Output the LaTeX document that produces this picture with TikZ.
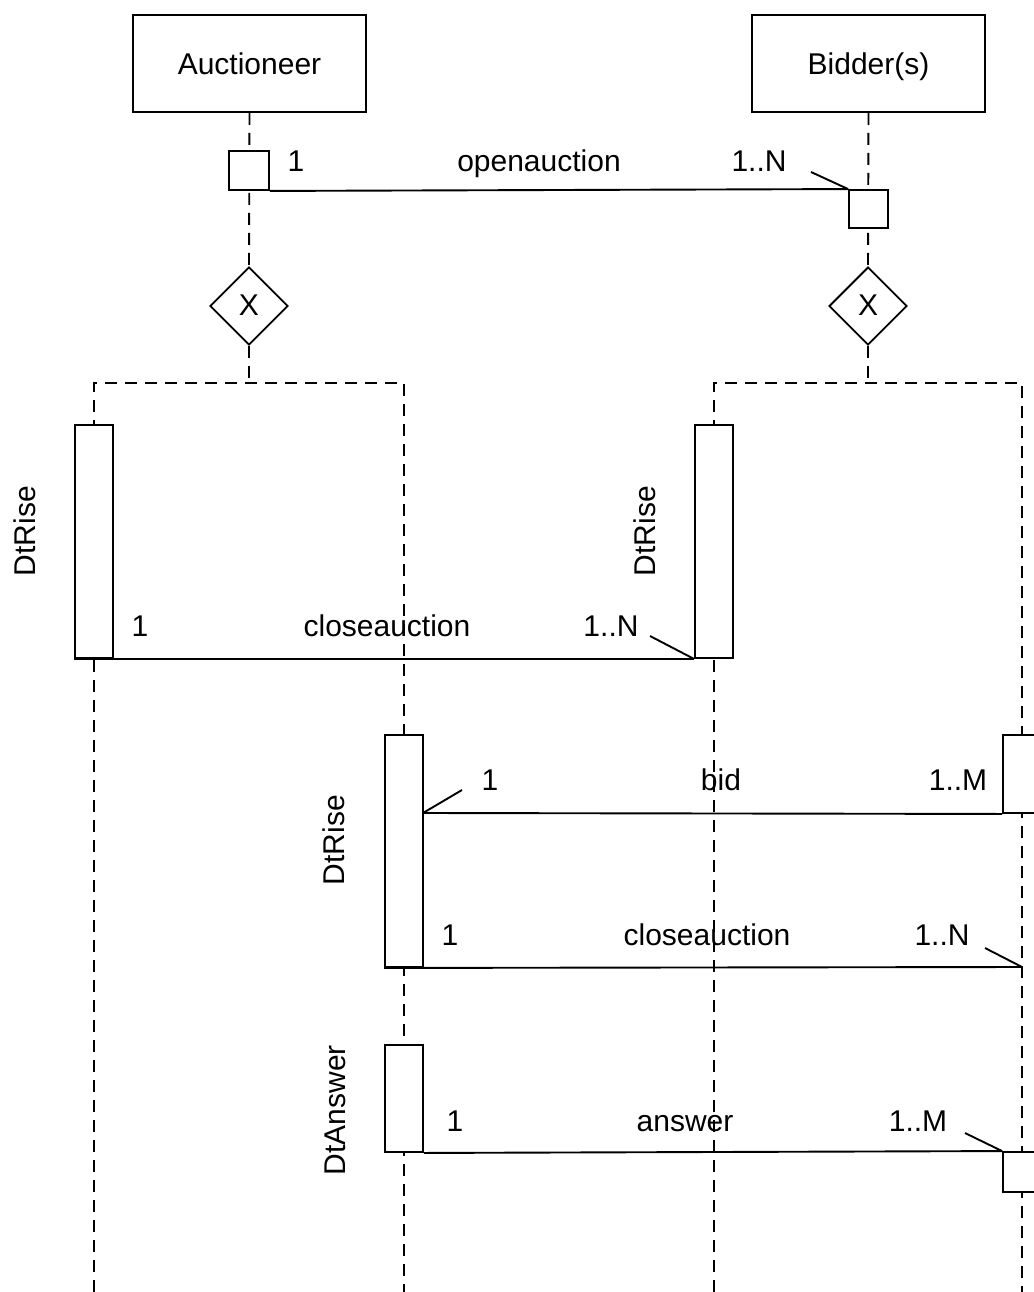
\documentclass[tikz,border=0pt]{standalone}
\usepackage{fontspec}
\setmainfont{Liberation Sans}
\usetikzlibrary{shapes.geometric}
\begin{document}
\begin{tikzpicture}[x=1pt,y=-1pt,line width=1.9pt,
  txt/.style={font=\fontsize{30}{34}\selectfont,inner sep=0pt,text height=21.5pt,text depth=0pt},
  actor/.style={draw,fill=white,minimum width=233pt,minimum height=97pt,txt},
  port/.style={draw,fill=white,minimum width=39pt,minimum height=39pt,inner sep=0pt},
  choice/.style={draw,fill=white,diamond,minimum width=78pt,minimum height=78pt,inner sep=0pt,txt,text height=19pt},
  bar/.style={draw,fill=white,minimum width=38pt,inner sep=0pt},
  life/.style={dash pattern=on 12pt off 8pt},
  vlabel/.style={txt,rotate=90}]
\useasboundingbox (0,0) rectangle (1033,1292);

% lifeline coordinates
\coordinate (aFork) at (249,383);
\coordinate (aL) at (94,383);
\coordinate (aR) at (404,383);
\coordinate (aLend) at (94,1292);
\coordinate (aRend) at (404,1292);
\coordinate (bFork) at (868,383);
\coordinate (bL) at (714,383);
\coordinate (bR) at (1022,383);
\coordinate (bLend) at (714,1292);
\coordinate (bRend) at (1022,1292);

% actors and gateways
\node[actor] (auct) at (249.5,63.5) {Auctioneer};
\node[actor] (bidd) at (868.5,63.5) {Bidder(s)};
\node[choice] (ax) at (249,306) {X};
\node[choice] (bx) at (868,306) {X};

% dashed lifelines
\draw[life] (auct.south) -- (ax.north);
\draw[life] (bidd.south) -- (bx.north);
\draw[life] (ax.south) -- (aFork);
\draw[life] (bx.south) -- (bFork);
\draw[life] (aLend) -- (aL) -- (aR) -- (aRend);
\draw[life] (bLend) -- (bL) -- (bR) -- (bRend);

% ports of the opening message
\node[port,minimum width=40pt] (ap) at (249,170.5) {};
\node[port,minimum height=38pt] (bp) at (868.5,209) {};

% activation bars
\node[bar,minimum height=233pt] (r1) at (94,541.5) {};
\node[bar,minimum height=233pt] (r2) at (714,541.5) {};
\node[bar,minimum height=232pt] (r3) at (404,851) {};
\node[bar,minimum height=78pt] (r4) at (1022,774) {};
\node[bar,minimum height=107pt] (r5) at (404,1098.5) {};
\node[bar,minimum height=40pt] (bp2) at (1022,1172) {};

% message ends and multiplicity ticks
\coordinate (m3a) at (423,813);
\coordinate (m4b) at (1022,967);
\coordinate (t1) at (811,172);
\coordinate (t2) at (650,636);
\coordinate (t3) at (462,790);
\coordinate (t4) at (985,948);
\coordinate (t5) at (965,1133);

% messages
\draw (ap.south east) -- (bp.north west);
\draw (bp.north west) -- (t1);
\draw (r1.south west) -- (r2.south west);
\draw (r2.south west) -- (t2);
\draw (m3a) -- (r4.south west);
\draw (m3a) -- (t3);
\draw (r3.south west) -- (m4b);
\draw (m4b) -- (t4);
\draw (r5.south east) -- (bp2.north west);
\draw (bp2.north west) -- (t5);

% texts
\node[txt] (l1a) at (296,161) {1};
\node[txt] (l1b) at (539,161) {openauction};
\node[txt] (l1c) at (759,161) {1..N};

\node[vlabel] (v1) at (25,531) {DtRise};
\node[vlabel] (v2) at (645,531) {DtRise};
\node[vlabel] (v3) at (334,840) {DtRise};
\node[vlabel] (v4) at (335,1110) {DtAnswer};

\node[txt] (l2a) at (140,626) {1};
\node[txt] (l2b) at (387,626) {closeauction};
\node[txt] (l2c) at (611,626) {1..N};

\node[txt] (l3a) at (490,780) {1};
\node[txt] (l3b) at (721,780) {bid};
\node[txt] (l3c) at (958,780) {1..M};

\node[txt] (l4a) at (450,935) {1};
\node[txt] (l4b) at (707,935) {closeauction};
\node[txt] (l4c) at (942,935) {1..N};

\node[txt] (l5a) at (455,1121) {1};
\node[txt] (l5b) at (685,1121) {answer};
\node[txt] (l5c) at (918,1121) {1..M};
\end{tikzpicture}
\end{document}
